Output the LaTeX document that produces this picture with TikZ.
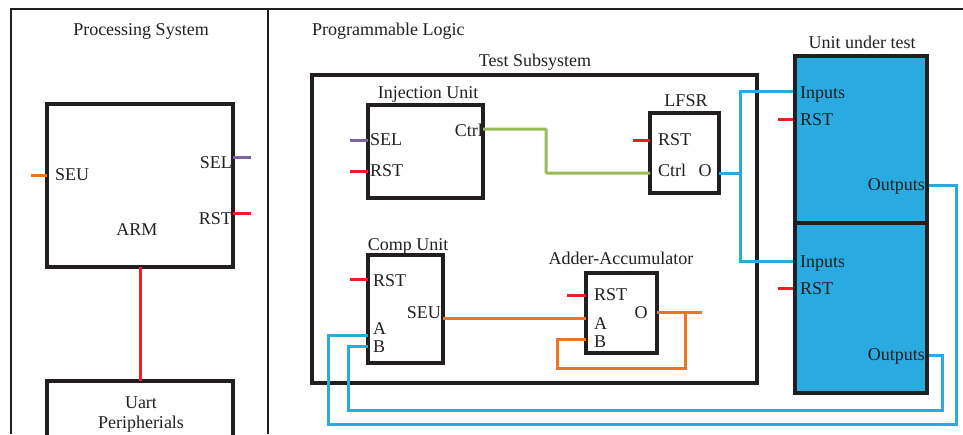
\documentclass[tikz,border=0pt]{standalone}
\usepackage{fontspec}
\setmainfont{Liberation Serif}
\definecolor{ink}{HTML}{231F20}
\definecolor{sigorange}{HTML}{EB7525}
\definecolor{sigpurple}{HTML}{8064A2}
\definecolor{sigred}{HTML}{EE1C25}
\definecolor{siggreen}{HTML}{9BBB59}
\definecolor{sigblue}{HTML}{29ABE2}
\begin{document}
\begin{tikzpicture}[x=1pt,y=-1pt,
  frame/.style={draw=ink, line width=2.2pt},
  box/.style={draw=ink, line width=3.3pt, inner sep=0pt, outer sep=0pt},
  uutbox/.style={box, fill=sigblue},
  lbl/.style={font=\fontsize{18}{20}\selectfont, text=ink, inner sep=0pt,
              text height=0.66em, text depth=0pt, yshift=-2.5pt},
  wire/.style={line width=3pt},
  ow/.style={wire, draw=sigorange},
  pw/.style={wire, draw=sigpurple},
  rw/.style={wire, draw=sigred},
  gw/.style={wire, draw=siggreen},
  bw/.style={wire, draw=sigblue}]
\useasboundingbox (0,0) rectangle (963,434);
\clip (0,0) rectangle (963,434);

% region frames
\coordinate (fl) at (11,434);
\coordinate (ftl) at (11,9);
\coordinate (ftr) at (963,9);
\coordinate (fmt) at (268,9);
\coordinate (fmb) at (268,434);
\draw[frame] (fl) -- (ftl) -- (ftr);
\draw[frame] (fmt) -- (fmb);

% blocks
\node[box, minimum width=186pt, minimum height=163pt] (arm) at (140,185.5) {};
\node[box, minimum width=186pt, minimum height=78pt] (uart) at (140,420) {};
\node[box, minimum width=445pt, minimum height=308pt] (tss) at (534.5,229) {};
\node[box, minimum width=115pt, minimum height=93pt] (inj) at (425.5,151.5) {};
\node[box, minimum width=69pt, minimum height=80pt] (lfsr) at (684.5,153) {};
\node[box, minimum width=75pt, minimum height=108pt] (comp) at (405.5,309) {};
\node[box, minimum width=71pt, minimum height=80pt] (adder) at (621.5,313) {};

% stub ends and wire corners
\coordinate (armseu) at (31,175);
\coordinate (armsel) at (251,157);
\coordinate (armrst) at (251,213);
\coordinate (injsel) at (350,140);
\coordinate (injrst) at (350,171);
\coordinate (lfsrrst) at (633,140);
\coordinate (comprst) at (350,279);
\coordinate (addrst) at (567,295);
\coordinate (uut1rst) at (778,119);
\coordinate (uut2rst) at (778,288);
\coordinate (addout) at (702,312);

% processing system wires
\draw[ow] (armseu) -- (armseu -| arm.west);
\draw[pw] (armsel -| arm.east) -- (armsel);
\draw[rw] (armrst -| arm.east) -- (armrst);
\draw[rw] (arm.south) -- (uart.north);

% test subsystem wires
\draw[pw] (injsel) -- (injsel -| inj.west);
\draw[rw] (injrst) -- (injrst -| inj.west);
\draw[gw, rounded corners=1pt] (inj.east |- 0,129) -- (546,129) -- (546,173) -- (lfsr.west |- 0,173);
\draw[rw] (lfsrrst) -- (lfsrrst -| lfsr.west);
\draw[rw] (comprst) -- (comprst -| comp.west);
\draw[rw] (addrst) -- (addrst -| adder.west);
\draw[ow] (comp.east |- 0,318) -- (adder.west |- 0,318);
\draw[ow] (adder.east |- addout) -- (addout);
\draw[ow] (685,312) -- (685,368) -- (557,368) -- (557,339) -- (adder.west |- 0,339);

% unit under test
\node[uutbox, minimum width=132pt, minimum height=167pt] (uut1) at (861,139.5) {};
\node[uutbox, minimum width=132pt, minimum height=170pt] (uut2) at (861,308) {};
\draw[rw] (uut1rst) -- (uut1rst -| uut1.west);
\draw[rw] (uut2rst) -- (uut2rst -| uut2.west);

% blue data paths
\draw[bw] (lfsr.east |- 0,173) -- (740,173);
\draw[bw] (uut1.west |- 0,91) -- (740,91) -- (740,261) -- (uut2.west |- 0,261);
\draw[bw] (uut1.east |- 0,185) -- (956,185) -- (956,424) -- (328,424) -- (328,335) -- (comp.west |- 0,335);
\draw[bw] (uut2.east |- 0,355) -- (942,355) -- (942,410) -- (348,410) -- (348,346) -- (comp.west |- 0,346);
% redraw borders over wire ends
\draw[box] (uut1.north west) rectangle (uut1.south east);
\draw[box] (uut2.north west) rectangle (uut2.south east);

% titles
\node[lbl] (tps) at (141,30) {Processing System};
\node[lbl, anchor=west] (tpl) at (312,30) {Programmable Logic};
\node[lbl] (ttss) at (535,61) {Test Subsystem};
\node[lbl] (tinj) at (428,93) {Injection Unit};
\node[lbl] (tlfsr) at (686,101) {LFSR};
\node[lbl] (tcomp) at (408,245) {Comp Unit};
\node[lbl] (tadd) at (621,259) {Adder-Accumulator};
\node[lbl] (tuut) at (862,43) {Unit under test};
\node[lbl] (tarm) at (137,230) {ARM};
\node[lbl] (tuart) at (141,403) {Uart};
\node[lbl] (tper) at (141,423) {Peripherials};

% port labels
\node[lbl, anchor=west] (larmseu) at (55,175) {SEU};
\node[lbl, anchor=east] (larmsel) at (232,163) {SEL};
\node[lbl, anchor=east] (larmrst) at (232,219) {RST};
\node[lbl, anchor=west] (linjsel) at (370,140) {SEL};
\node[lbl, anchor=west] (linjrst) at (370,171) {RST};
\node[lbl, anchor=east] (linjctrl) at (483,131) {Ctrl};
\node[lbl, anchor=west] (llfsrrst) at (658,140) {RST};
\node[lbl, anchor=west] (llfsrctrl) at (658,171) {Ctrl};
\node[lbl] (llfsro) at (705,171) {O};
\node[lbl, anchor=west] (lcomprst) at (373,281) {RST};
\node[lbl, anchor=east] (lcompseu) at (441,313) {SEU};
\node[lbl, anchor=west] (lcompa) at (373,328.5) {A};
\node[lbl, anchor=west] (lcompb) at (373,347) {B};
\node[lbl, anchor=west] (laddrst) at (594,295) {RST};
\node[lbl, anchor=west] (ladda) at (594,324) {A};
\node[lbl, anchor=west] (laddb) at (594,342) {B};
\node[lbl] (laddo) at (641,313) {O};
\node[lbl, anchor=west] (lu1in) at (800,93) {Inputs};
\node[lbl, anchor=west] (lu1rst) at (800,120) {RST};
\node[lbl, anchor=east] (lu1out) at (925,185) {Outputs};
\node[lbl, anchor=west] (lu2in) at (800,262) {Inputs};
\node[lbl, anchor=west] (lu2rst) at (800,289) {RST};
\node[lbl, anchor=east] (lu2out) at (925,355) {Outputs};
\end{tikzpicture}
\end{document}
